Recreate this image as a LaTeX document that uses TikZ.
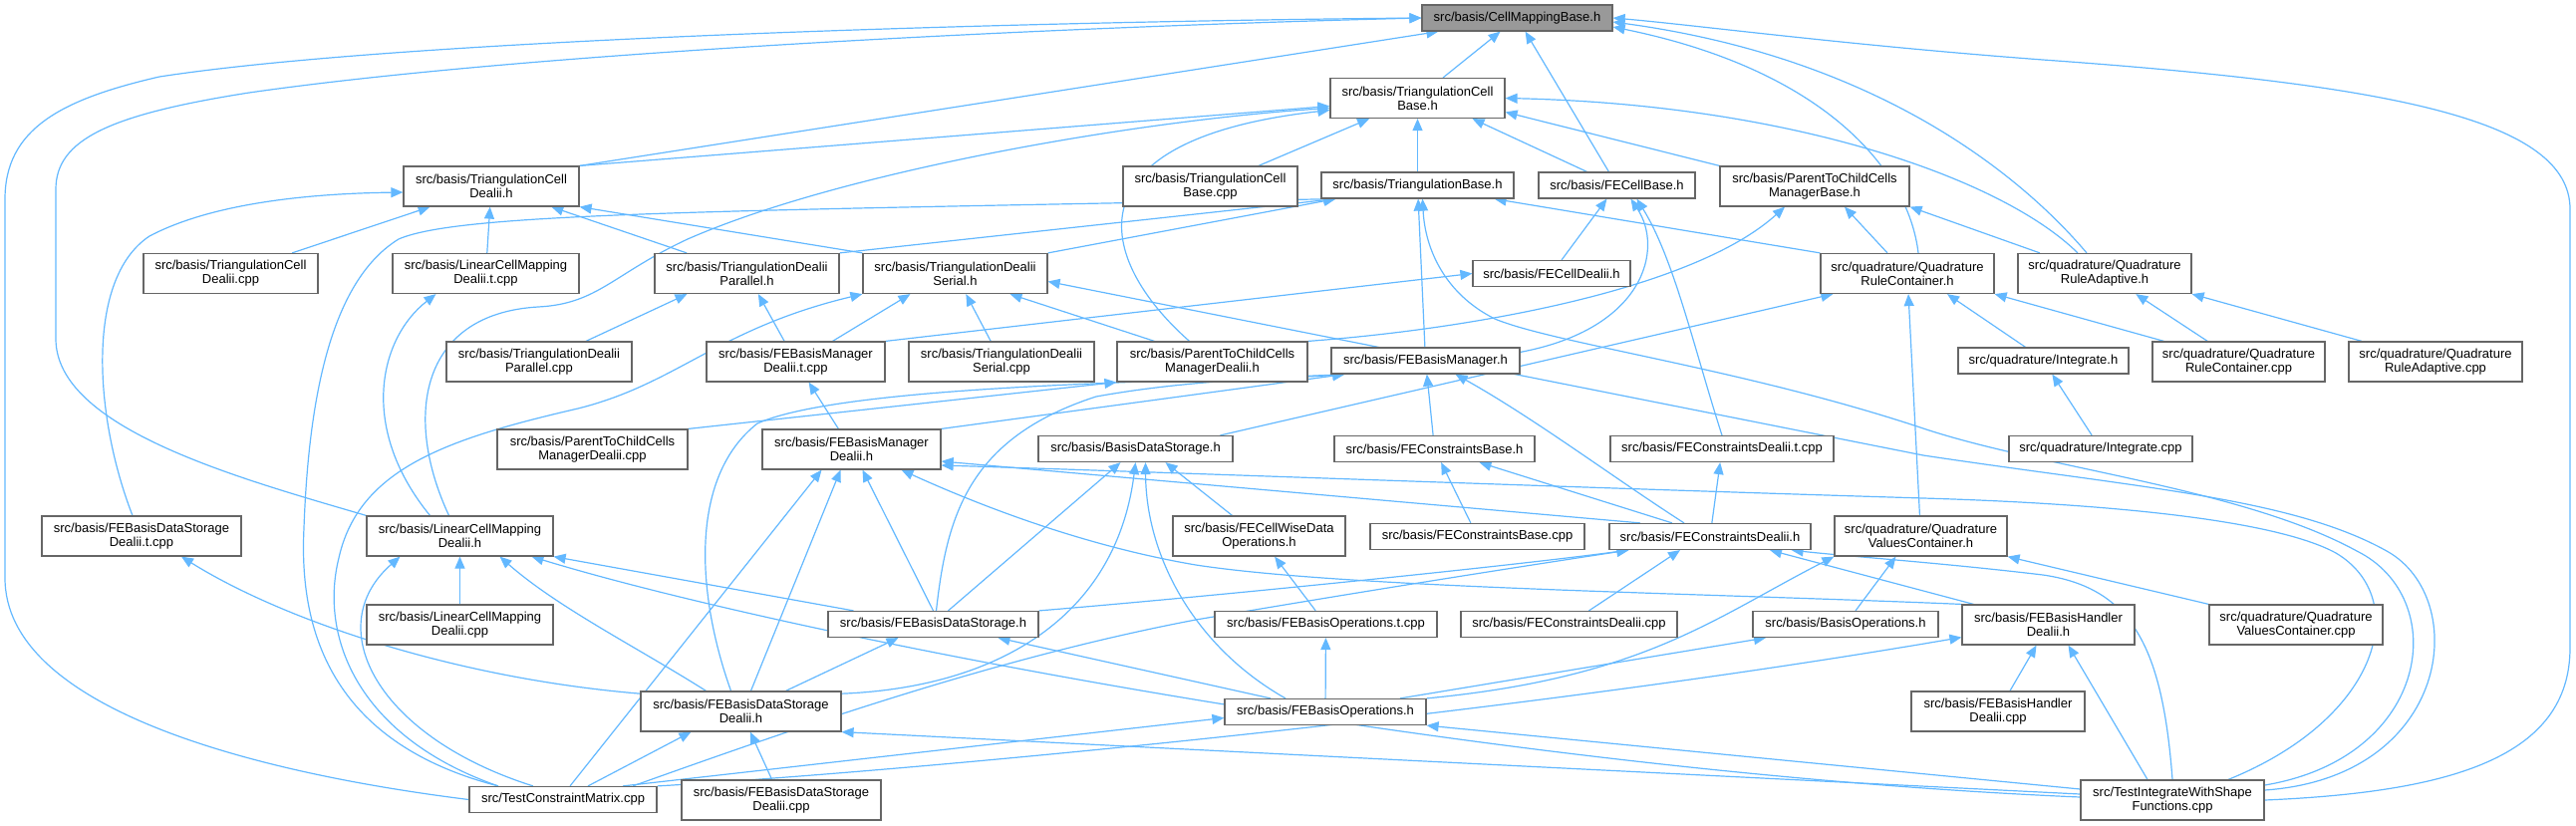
\documentclass[tikz,border=0pt]{standalone}
\usepackage{fontspec}
\setmainfont{Liberation Sans}
\usetikzlibrary{arrows.meta}
\pgfdeclarelayer{bg}
\pgfsetlayers{bg,main}
\begin{document}
\begin{tikzpicture}[x=1pt,y=-1pt,
  box/.style={draw=black!60,line width=1.2pt,fill=white,align=center,inner xsep=2pt,inner ysep=1pt,
    font=\fontsize{13pt}{14pt}\selectfont},
  bA/.style={box,minimum height=26pt},
  bB/.style={box,minimum height=40pt},
  root/.style={bA,fill=black!40},
  edg/.style={draw={rgb,255:red,99;green,184;blue,255},line width=1.2pt,-{Triangle[length=12pt,width=10pt]}}]
\useasboundingbox (0,0) rectangle (2585,828);
% nodes
\node[root,minimum width=191pt] (cmb) at (1522.5,18) {src/basis/CellMappingBase.h};
\node[bB,minimum width=175pt] (tcb) at (1422.5,98.5) {src/basis/TriangulationCell\\Base.h};
\node[bB,minimum width=176pt] (tcd) at (493,187) {src/basis/TriangulationCell\\Dealii.h};
\node[bB,minimum width=175pt] (tcdcpp) at (231.5,274.5) {src/basis/TriangulationCell\\Dealii.cpp};
\node[bB,minimum width=187pt] (lcmdt) at (487.5,274.5) {src/basis/LinearCellMapping\\Dealii.t.cpp};
\node[bB,minimum width=185pt] (tdp) at (749.5,274.5) {src/basis/TriangulationDealii\\Parallel.h};
\node[bB,minimum width=185pt] (tds) at (958.5,274.5) {src/basis/TriangulationDealii\\Serial.h};
\node[bB,minimum width=175pt] (tcbcpp) at (1214.5,187) {src/basis/TriangulationCell\\Base.cpp};
\node[bA,minimum width=193pt] (tb) at (1422.5,186) {src/basis/TriangulationBase.h};
\node[bA,minimum width=157pt] (fecb) at (1622.5,186) {src/basis/FECellBase.h};
\node[bB,minimum width=190pt] (ptcmb) at (1821,187) {src/basis/ParentToChildCells\\ManagerBase.h};
\node[bA,minimum width=158pt] (fecd) at (1557,274.5) {src/basis/FECellDealii.h};
\node[bB,minimum width=174pt] (qrc) at (1914,274.5) {src/quadrature/Quadrature\\RuleContainer.h};
\node[bB,minimum width=174pt] (qra) at (2112,274.5) {src/quadrature/Quadrature\\RuleAdaptive.h};
\node[bB,minimum width=186pt] (tdpcpp) at (541,363) {src/basis/TriangulationDealii\\Parallel.cpp};
\node[bB,minimum width=179pt] (febmdt) at (798.5,363) {src/basis/FEBasisManager\\Dealii.t.cpp};
\node[bB,minimum width=186pt] (tdscpp) at (1005,363) {src/basis/TriangulationDealii\\Serial.cpp};
\node[bB,minimum width=191pt] (ptcmd) at (1216.5,363) {src/basis/ParentToChildCells\\ManagerDealii.h};
\node[bA,minimum width=189pt] (febm) at (1430.5,362) {src/basis/FEBasisManager.h};
\node[bA,minimum width=171pt] (integ) at (2050.5,362) {src/quadrature/Integrate.h};
\node[bB,minimum width=173pt] (qrccpp) at (2246.5,363) {src/quadrature/Quadrature\\RuleContainer.cpp};
\node[bB,minimum width=174pt] (qracpp) at (2444,363) {src/quadrature/Quadrature\\RuleAdaptive.cpp};
\node[bB,minimum width=191pt] (ptcmdcpp) at (594.5,451) {src/basis/ParentToChildCells\\ManagerDealii.cpp};
\node[bB,minimum width=179pt] (febmd) at (854.5,451) {src/basis/FEBasisManager\\Dealii.h};
\node[bA,minimum width=195pt] (bds) at (1139.5,450.5) {src/basis/BasisDataStorage.h};
\node[bA,minimum width=201pt] (fecnb) at (1439.5,450.5) {src/basis/FEConstraintsBase.h};
\node[bA,minimum width=224pt] (fecndt) at (1728,450.5) {src/basis/FEConstraintsDealii.t.cpp};
\node[bA,minimum width=184pt] (integcpp) at (2108,450.5) {src/quadrature/Integrate.cpp};
\node[bB,minimum width=200pt] (febdsdt) at (142,538) {src/basis/FEBasisDataStorage\\Dealii.t.cpp};
\node[bB,minimum width=187pt] (lcmd) at (461.5,538) {src/basis/LinearCellMapping\\Dealii.h};
\node[bB,minimum width=173pt] (fecwdo) at (1263.5,538) {src/basis/FECellWiseData\\Operations.h};
\node[bA,minimum width=215pt] (fecnbcpp) at (1482.5,538.5) {src/basis/FEConstraintsBase.cpp};
\node[bA,minimum width=202pt] (fecnd) at (1716,538.5) {src/basis/FEConstraintsDealii.h};
\node[bB,minimum width=173pt] (qvc) at (1927.5,538) {src/quadrature/Quadrature\\ValuesContainer.h};
\node[bB,minimum width=187pt] (lcmdcpp) at (461.5,627) {src/basis/LinearCellMapping\\Dealii.cpp};
\node[bA,minimum width=211pt] (febds) at (936.5,626.5) {src/basis/FEBasisDataStorage.h};
\node[bA,minimum width=223pt] (feboptc) at (1330.5,626.5) {src/basis/FEBasisOperations.t.cpp};
\node[bA,minimum width=217pt] (fecndcpp) at (1574.5,626.5) {src/basis/FEConstraintsDealii.cpp};
\node[bA,minimum width=186pt] (bops) at (1852,626.5) {src/basis/BasisOperations.h};
\node[bB,minimum width=173pt] (febhd) at (2055.5,627) {src/basis/FEBasisHandler\\Dealii.h};
\node[bB,minimum width=174pt] (qvccpp) at (2304,627) {src/quadrature/Quadrature\\ValuesContainer.cpp};
\node[bB,minimum width=201pt] (febdsd) at (743.5,714) {src/basis/FEBasisDataStorage\\Dealii.h};
\node[bA,minimum width=202pt] (febops) at (1330,714.5) {src/basis/FEBasisOperations.h};
\node[bB,minimum width=174pt] (febhdcpp) at (2005,714) {src/basis/FEBasisHandler\\Dealii.cpp};
\node[bA,minimum width=188pt] (tcm) at (565,802.5) {src/TestConstraintMatrix.cpp};
\node[bB,minimum width=200pt] (febdsdcpp) at (784,803) {src/basis/FEBasisDataStorage\\Dealii.cpp};
\node[bB,minimum width=184pt] (tiws) at (2180,803) {src/TestIntegrateWithShape\\Functions.cpp};
% edges
\begin{pgfonlayer}{bg}
% CellMappingBase
\draw[edg] (tcm.west) .. controls (250,775) and (5,710) .. (5,580) -- (5,200) .. controls (5,130) and (60,100) .. (160,77) .. controls (400,40) and (1000,22) .. (cmb.west);
\draw[edg] (lcmd.north west) .. controls (240,480) and (56,430) .. (56,340) -- (56,190) .. controls (56,140) and (110,115) .. (250,93) .. controls (550,50) and (1100,26) .. (cmb.west);
\draw[edg] (tcd.north east) -- ([xshift=17pt]cmb.south west);
\draw[edg] (tcb) -- (cmb);
\draw[edg] (fecb) -- (cmb);
\draw[edg] ([xshift=11pt]qrc.north) .. controls (1915,170) and (1830,70) .. ([yshift=-9pt]cmb.east);
\draw[edg] ([xshift=-18pt]qra.north) .. controls (2040,190) and (1900,60) .. ([yshift=-4pt]cmb.east);
\draw[edg] (tiws.east) .. controls (2460,795) and (2579,760) .. (2579,650) -- (2579,210) .. controls (2579,120) and (2400,85) .. (2050,60) .. controls (1850,45) and (1700,25) .. (cmb.east);
% TriangulationCellBase
\draw[edg] (tcd.north east) -- ([yshift=-8pt]tcb.west);
\draw[edg] ([xshift=-11pt]lcmd.north) .. controls (405,420) and (420,315) .. (540,308) .. controls (600,305) and (615,275) .. (690,240) .. controls (850,170) and (1150,120) .. ([yshift=-10pt]tcb.west);
\draw[edg] ([xshift=-23pt]ptcmd.north) .. controls (1100,260) and (1070,140) .. ([yshift=-12pt]tcb.west);
\draw[edg] (tcbcpp) -- (tcb);
\draw[edg] (tb) -- (tcb);
\draw[edg] ([xshift=-30pt]fecb.north) -- ([xshift=55pt]tcb.south);
\draw[edg] (ptcmb.north west) -- ([yshift=-14pt]tcb.east);
\draw[edg] ([xshift=-27pt]qra.north) .. controls (2010,180) and (1800,105) .. (tcb.east);
% TriangulationCellDealii
\draw[edg] (tcdcpp) -- (tcd);
\draw[edg] (lcmdt) -- (tcd);
\draw[edg] (tdp) -- (tcd);
\draw[edg] (tds.north west) -- (tcd.south east);
\draw[edg] ([xshift=-9pt]febdsdt.north) .. controls (95,420) and (85,280) .. (150,237) .. controls (220,200) and (330,194) .. ([yshift=-6pt]tcd.west);
% TriangulationBase
\draw[edg] (tdp.north east) -- ([xshift=15pt]tb.south west);
\draw[edg] (tds.north east) -- ([xshift=15pt]tb.south west);
\draw[edg] ([xshift=-65pt]tcm.north) .. controls (330,745) and (300,630) .. (305,530) .. controls (310,390) and (335,280) .. (400,240) .. controls (460,214) and (700,212) .. ([xshift=15pt]tb.south west);
\draw[edg] (febm) -- (tb);
\draw[edg] (qrc.north west) -- ([xshift=-20pt]tb.south east);
\draw[edg] ([yshift=15pt]tiws.east) .. controls (2440,760) and (2460,600) .. (2365,553) .. controls (2250,490) and (2050,470) .. (1930,430) .. controls (1750,370) and (1560,345) .. (1500,320) .. controls (1450,295) and (1430,250) .. ([xshift=5pt]tb.south);
% TriangulationDealiiParallel / Serial
\draw[edg] ([xshift=47pt]tdpcpp.north) -- ([xshift=-60pt]tdp.south);
\draw[edg] (febmdt) -- (tdp);
\draw[edg] ([xshift=37pt]febmdt.north) -- ([xshift=-45pt]tds.south);
\draw[edg] (tdscpp) -- (tds);
\draw[edg] ([xshift=-58pt]ptcmd.north) -- ([xshift=55pt]tds.south);
\draw[edg] ([xshift=-65pt]tcm.north) .. controls (360,740) and (320,640) .. (340,560) .. controls (360,470) and (450,440) .. (580,410) .. controls (680,385) and (720,330) .. (tds.south west);
\draw[edg] ([yshift=10pt]tiws.east) .. controls (2460,780) and (2480,600) .. (2395,553) .. controls (2300,500) and (2150,490) .. (1930,457) -- ([yshift=-8pt]tds.east);
% FEBasisManagerDealii
\draw[edg] ([xshift=7pt]tcm.north) -- ([xshift=-30pt]febmd.south);
\draw[edg] ([xshift=10pt]febdsd.north) -- ([xshift=-11pt]febmd.south);
\draw[edg] (febds.north) -- ([xshift=11pt]febmd.south);
\draw[edg] ([xshift=-70pt]fecnd.north) -- ([yshift=-12pt]febmd.east);
\draw[edg] ([xshift=56pt]tiws.north) .. controls (2390,720) and (2420,600) .. (2344,555) .. controls (2280,520) and (2100,505) .. (1930,500) .. controls (1600,490) and (1200,475) .. ([yshift=-16pt]febmd.east);
\draw[edg] (febhd.north west) .. controls (1700,595) and (1350,590) .. (1200,567) .. controls (1100,550) and (1000,515) .. ([xshift=50pt]febmd.south);
\draw[edg] (febmd) -- (febmdt);
% FEBasisManager
\draw[edg] (fecnb) -- (febm);
\draw[edg] ([xshift=-26pt]fecnd.north) .. controls (1620,480) and (1540,420) .. ([xshift=30pt]febm.south);
\draw[edg] (febmd.north east) -- ([xshift=14pt]febm.south west);
\draw[edg] ([xshift=3pt]febds.north) .. controls (950,520) and (970,440) .. (1100,398) .. controls (1200,380) and (1290,380) .. ([xshift=14pt]febm.south west);
\draw[edg] ([xshift=-10pt]febdsd.north) .. controls (700,600) and (690,480) .. (760,425) .. controls (850,385) and (1200,383) .. ([xshift=14pt]febm.south west);
% FECellBase / FECellDealii
\draw[edg] (fecd) -- (fecb);
\draw[edg] ([yshift=-5pt]febm.north east) .. controls (1650,330) and (1670,250) .. ([xshift=14pt]fecb.south);
\draw[edg] (fecndt.north) .. controls (1700,350) and (1680,260) .. ([xshift=20pt]fecb.south);
\draw[edg] (febmdt.north east) -- (fecd.west);
% ParentToChildCells
\draw[edg] (ptcmd.north east) .. controls (1480,330) and (1700,290) .. ([xshift=-30pt]ptcmb.south);
\draw[edg] ([xshift=-20pt]qrc.north) -- ([xshift=30pt]ptcmb.south);
\draw[edg] ([xshift=-65pt]qra.north) -- (ptcmb.south east);
\draw[edg] (ptcmdcpp.north east) -- (ptcmd.south west);
% Quadrature
\draw[edg] ([xshift=-18pt]integ.north) -- ([xshift=40pt]qrc.south);
\draw[edg] ([xshift=-75pt]qrccpp.north) -- (qrc.south east);
\draw[edg] ([xshift=85pt]bds.north) -- ([xshift=13pt]qrc.south west);
\draw[edg] (qvc) -- (qrc);
\draw[edg] (qrccpp) -- (qra);
\draw[edg] ([xshift=-74pt]qracpp.north) -- (qra.south east);
\draw[edg] (integcpp) -- (integ);
% BasisDataStorage
\draw[edg] ([xshift=15pt]febds.north) -- ([xshift=-15pt]bds.south);
\draw[edg] (febdsd.10) .. controls (1000,690) and (1120,620) .. (bds.south);
\draw[edg] ([xshift=-40pt]febops.north) .. controls (1200,650) and (1150,560) .. ([xshift=10pt]bds.south);
\draw[edg] ([xshift=-27pt]fecwdo.north) -- ([xshift=30pt]bds.south);
% FEConstraints
\draw[edg] (fecnd) -- (fecndt);
\draw[edg] ([xshift=-38pt]fecnd.north) -- ([xshift=45pt]fecnb.south);
\draw[edg] (fecnbcpp) -- (fecnb);
\draw[edg] ([xshift=20pt]fecndcpp.north) -- ([xshift=-30pt]fecnd.south);
\draw[edg] ([xshift=-75pt]febhd.north) -- ([xshift=60pt]fecnd.south);
\draw[edg] (tiws.north) .. controls (2170,650) and (2140,590) .. (2050,577) .. controls (1950,565) and (1850,558) .. ([xshift=-20pt]fecnd.south east);
\draw[edg] (febds.north east) .. controls (1200,600) and (1500,570) .. ([xshift=20pt]fecnd.south west);
\draw[edg] ([xshift=70pt]tcm.north) .. controls (800,730) and (1000,660) .. (1200,622) .. controls (1400,588) and (1550,565) .. ([xshift=20pt]fecnd.south west);
% LinearCellMappingDealii
\draw[edg] ([xshift=-30pt]lcmd.north) .. controls (360,430) and (380,340) .. ([xshift=-50pt]lcmdt.south);
\draw[edg] (lcmdcpp) -- (lcmd);
\draw[edg] ([xshift=-30pt]tcm.north) .. controls (380,740) and (320,630) .. ([xshift=-60pt]lcmd.south);
\draw[edg] ([xshift=-35pt]febdsd.north) .. controls (640,650) and (560,610) .. ([xshift=40pt]lcmd.south);
\draw[edg] ([xshift=-80pt]febds.north) -- (lcmd.south east);
\draw[edg] ([yshift=3pt]tiws.west) .. controls (1500,775) and (800,640) .. ([xshift=72pt]lcmd.south);
% FEBasisDataStorageDealii
\draw[edg] (febdsdcpp) -- (febdsd);
\draw[edg] ([xshift=25pt]tcm.north) -- ([xshift=-50pt]febdsd.south);
\draw[edg] ([yshift=6pt]tiws.west) -- (febdsd.south east);
\draw[edg] (febdsd.170) .. controls (450,680) and (280,620) .. ([xshift=40pt]febdsdt.south);
% FEBasisDataStorage
\draw[edg] ([xshift=45pt]febdsd.north) -- ([xshift=-35pt]febds.south);
\draw[edg] ([xshift=-55pt]febops.north) -- ([xshift=65pt]febds.south);
% FEBasisOperations
\draw[edg] (febops) -- (feboptc);
\draw[edg] (feboptc) -- (fecwdo);
\draw[edg] ([xshift=75pt]febops.north) -- ([xshift=-80pt]bops.south);
\draw[edg] (febops.north east) .. controls (1650,680) and (1720,620) .. (qvc.south west);
\draw[edg] ([xshift=60pt]tcm.north) -- ([yshift=-6pt]febops.west);
\draw[edg] ([yshift=11pt]tiws.west) -- (febops.south east);
% BasisOperations / QuadratureValuesContainer
\draw[edg] ([xshift=10pt]bops.north) -- ([xshift=-25pt]qvc.south);
\draw[edg] (qvccpp.north west) -- (qvc.south east);
% FEBasisHandlerDealii
\draw[edg] (febhdcpp) -- (febhd);
\draw[edg] ([xshift=-25pt]tiws.north) -- ([xshift=20pt]febhd.south);
\draw[edg] (tcm.north east) .. controls (900,775) and (1500,720) .. ([yshift=8pt]febhd.south west);
\end{pgfonlayer}
\end{tikzpicture}
\end{document}
